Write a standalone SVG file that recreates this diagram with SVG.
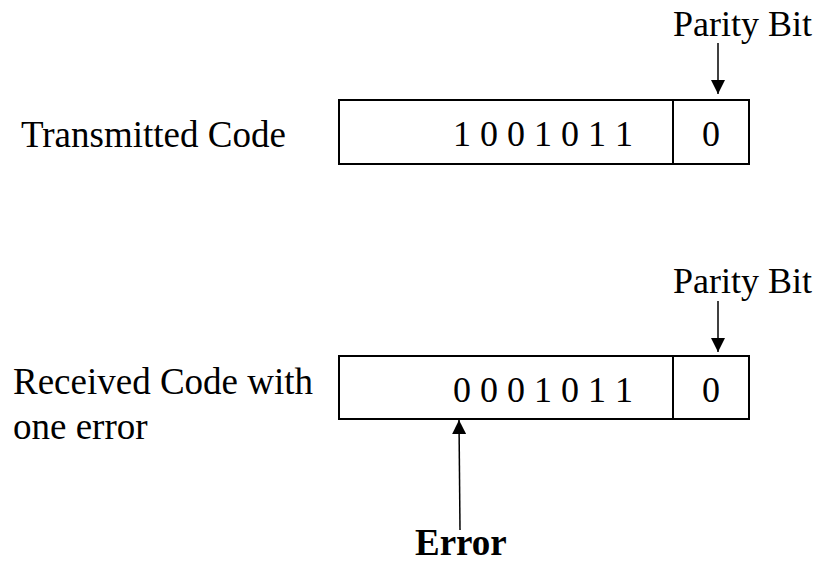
<svg xmlns="http://www.w3.org/2000/svg" width="823" height="564" viewBox="0 0 823 564">
  <style>
    text { font-family: "Liberation Serif", "Times New Roman", serif; font-size: 36px; fill: #000; }
    .label { font-size: 37px; }
    .bold { font-weight: bold; font-size: 37px; }
    .box { fill: #fff; stroke: #000; stroke-width: 2; }
    .conn { stroke: #000; stroke-width: 1.5; fill: none; }
  </style>
  <defs>
    <marker id="arrow" viewBox="0 0 14 14" refX="14" refY="7" markerWidth="14" markerHeight="14" markerUnits="userSpaceOnUse" orient="auto">
      <path d="M0,0 L14,7 L0,14 Z" fill="#000"/>
    </marker>
  </defs>
  <rect width="823" height="564" fill="#fff"/>

  <!-- transmitted word with its parity bit -->
  <g id="transmitted">
    <text class="label" x="21" y="147">Transmitted Code</text>
    <rect class="box" x="339" y="100" width="410" height="64"/>
    <line x1="673" y1="100" x2="673" y2="164" stroke="#000" stroke-width="2"/>
    <text x="453" y="146">1 0 0 1 0 1 1</text>
    <text x="711" y="146" text-anchor="middle">0</text>
  </g>
  <g id="parity-top">
    <text x="673" y="36">Parity Bit</text>
  </g>

  <!-- received word, first bit flipped -->
  <g id="received">
    <text class="label" x="13" y="394">Received Code with</text>
    <text class="label" x="13" y="439">one error</text>
    <rect class="box" x="339" y="356" width="410" height="63"/>
    <line x1="673" y1="356" x2="673" y2="419" stroke="#000" stroke-width="2"/>
    <text x="453" y="402">0 0 0 1 0 1 1</text>
    <text x="711" y="402" text-anchor="middle">0</text>
  </g>
  <g id="parity-bottom">
    <text x="673" y="293">Parity Bit</text>
  </g>

  <g id="error">
    <text class="bold" x="415" y="555">Error</text>
  </g>

  <g id="connectors">
    <line class="conn" x1="718" y1="43" x2="718" y2="94" marker-end="url(#arrow)"/>
    <line class="conn" x1="718" y1="301" x2="718" y2="352" marker-end="url(#arrow)"/>
    <line class="conn" x1="460" y1="530" x2="459" y2="420" marker-end="url(#arrow)"/>
  </g>
</svg>
